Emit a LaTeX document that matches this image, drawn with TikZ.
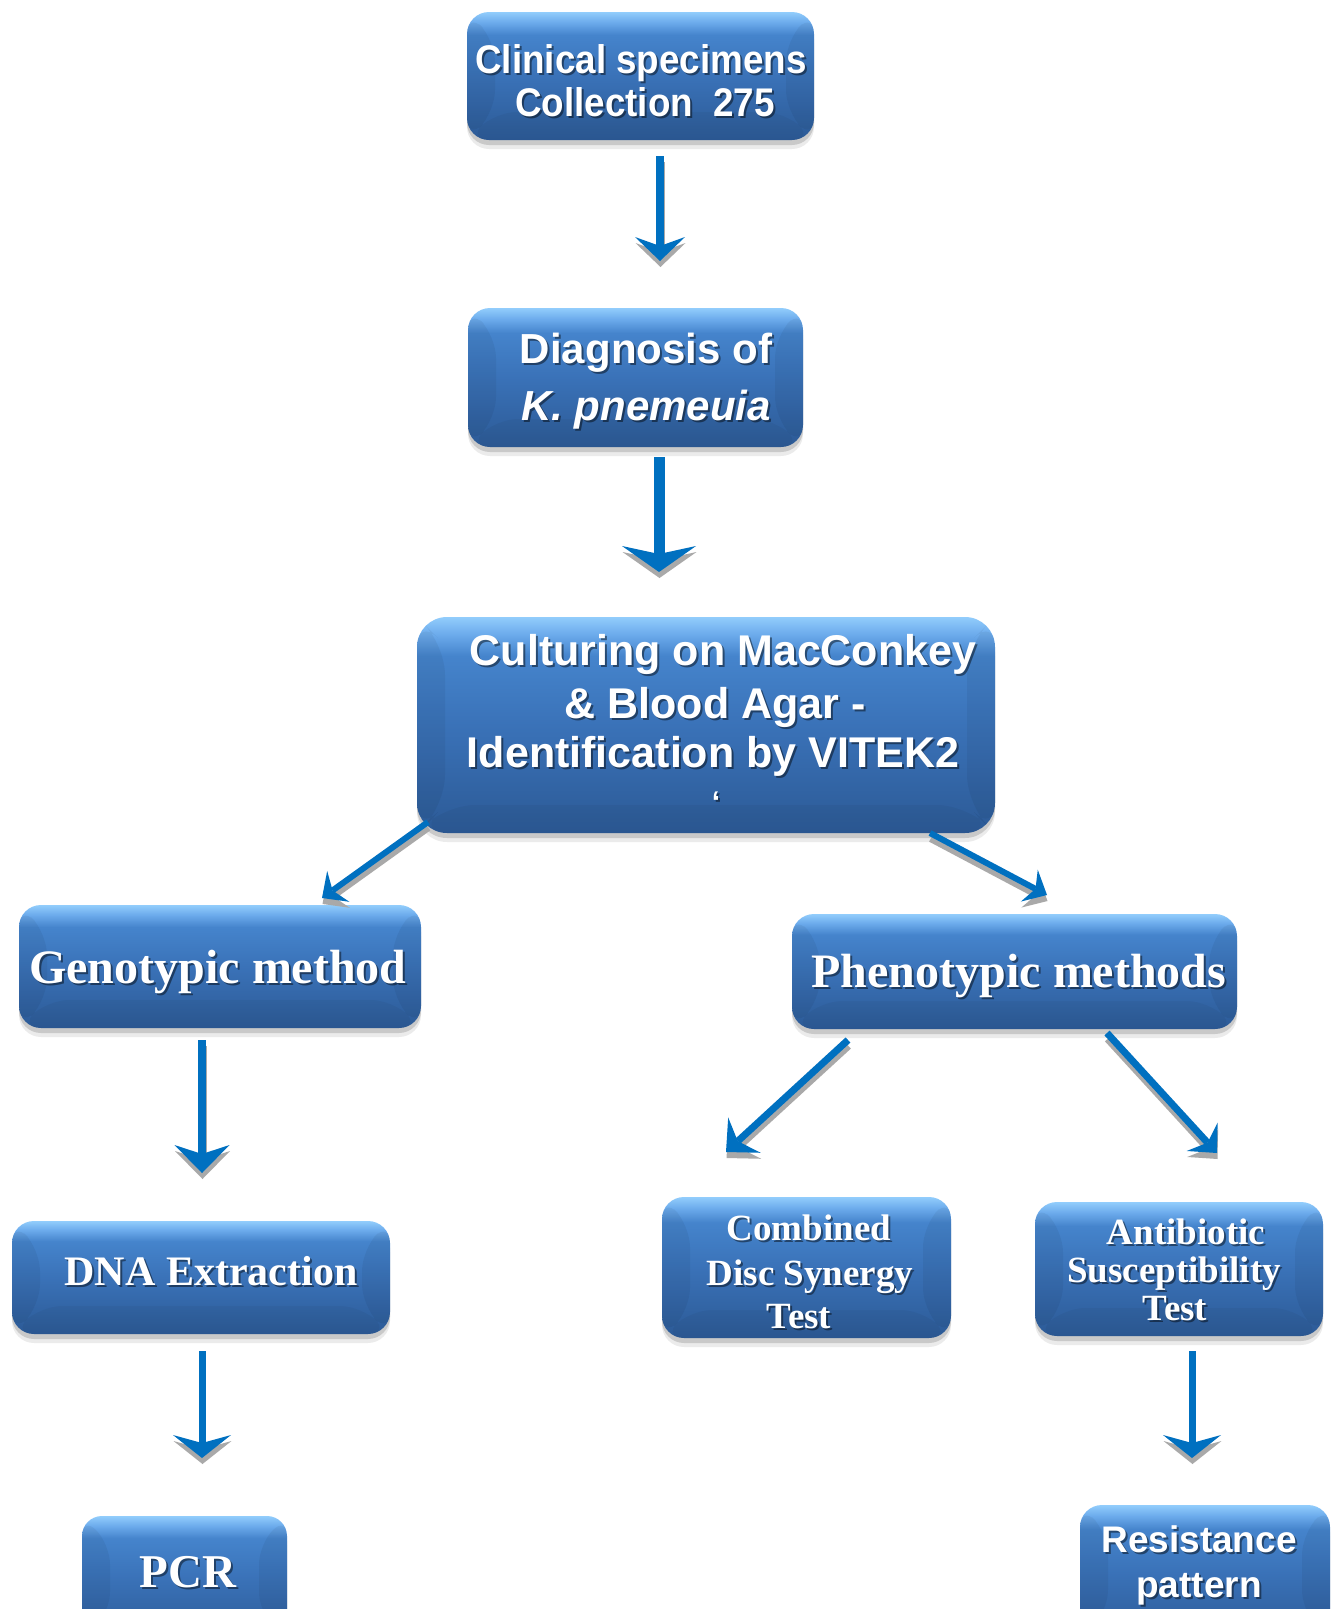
\documentclass[tikz,border=0pt]{standalone}
\usepackage{fontspec}
\usepackage{graphicx}
\usetikzlibrary{arrows.meta}
\newfontfamily\ars{Liberation Sans}
\newfontfamily\tms{Liberation Serif}
\definecolor{arrblue}{HTML}{0070C0}
\definecolor{shgray}{HTML}{A9A9A9}
\definecolor{bbot}{HTML}{2C5A96}
\definecolor{bmid}{HTML}{3A72B8}
\definecolor{bmidb}{HTML}{4584CC}
\definecolor{bhi}{HTML}{6CABEC}
\definecolor{btop}{HTML}{92CDFC}
\pgfdeclareverticalshading{boxgrad}{100bp}{color(0bp)=(bbot); color(25bp)=(bbot); color(50bp)=(bmid); color(66bp)=(bmidb); color(71bp)=(bhi); color(75bp)=(btop); color(100bp)=(btop)}
\tikzset{
  bx/.style={rectangle, inner sep=0pt, outer sep=0pt, shading=boxgrad,
    preaction={fill=black, fill opacity=0.08, transform canvas={yshift=-9pt}},
    preaction={fill=black, fill opacity=0.14, transform canvas={yshift=-5pt}},
    path picture={
      \fill[black, fill opacity=0.05] (path picture bounding box.north west) -- ++(28,28)
        -- ([shift={(28,-28)}]path picture bounding box.south west) -- (path picture bounding box.south west) -- cycle;
      \fill[black, fill opacity=0.05] (path picture bounding box.north east) -- ++(-28,28)
        -- ([shift={(-28,-28)}]path picture bounding box.south east) -- (path picture bounding box.south east) -- cycle;
      \fill[black, fill opacity=0.04] (path picture bounding box.south west) -- ++(28,-28)
        -- ([shift={(-28,-28)}]path picture bounding box.south east) -- (path picture bounding box.south east) -- cycle;
    }},
  tsh/.style={text=black, text opacity=0.45, inner sep=0pt, outer sep=0pt},
  tmain/.style={text=white, inner sep=0pt, outer sep=0pt}
}
\newcommand\bxx[6]{\node[bx, rounded corners=#6pt, minimum width={#4-#2}, minimum height={#5-#3}] (#1) at ({(#2+#4)/2},{(#3+#5)/2}) {};}
\newcommand\tl[5]{%
  \node[tsh, anchor=base] (#1-sh) at (#2+2,#3+2.5) {#4#5};
  \node[tmain, anchor=base] (#1) at (#2,#3) {#4#5};}
\newcommand\arw[6]{%
  \draw[line width=#3pt, shgray, -{Stealth[length=#4pt,width=#5pt,inset=#6pt,line width=0pt]}, transform canvas={xshift=0.5pt,yshift=-6pt}] (#1) -- (#2);
  \draw[line width=#3pt, arrblue, -{Stealth[length=#4pt,width=#5pt,inset=#6pt,line width=0pt]}] (#1) -- (#2);}
\newcommand\fsans[1]{\ars\bfseries\fontsize{#1}{#1}\selectfont}
\newcommand\fserif[1]{\tms\bfseries\fontsize{#1}{#1}\selectfont}
\begin{document}
\begin{tikzpicture}[x=1pt,y=-1pt]
\useasboundingbox (0,0) rectangle (1339,1609);
\fill[white] (0,0) rectangle (1339,1609);
% boxes
\bxx{b1}{467}{12}{814}{140}{22}
\bxx{b2}{468}{308}{803}{447}{22}
\bxx{b3}{417}{617}{995}{833}{30}
\bxx{b4}{19}{905}{421}{1028}{22}
\bxx{b5}{792}{914}{1237}{1029}{22}
\bxx{b6}{12}{1221}{390}{1334}{22}
\bxx{b7}{662}{1197}{951}{1338}{22}
\bxx{b8}{1035}{1202}{1323}{1336}{22}
\bxx{b9}{82}{1516}{287}{1640}{20}
\bxx{b10}{1080}{1505}{1330}{1640}{22}
% texts
\tl{t1a}{641}{73}{\fsans{40}}{\scalebox{0.92}[1]{Clinical specimens}}
\tl{t1b}{645}{116}{\fsans{40}}{\scalebox{0.92}[1]{Collection~~275}}
\tl{t2a}{646}{363}{\fsans{42}}{Diagnosis of}
\tl{t2b}{646}{420}{\fsans{42}\itshape}{K. pnemeuia}
\tl{t3a}{723}{665}{\fsans{43}}{Culturing on MacConkey}
\tl{t3b}{715}{718}{\fsans{43}}{\& Blood Agar -}
\tl{t3c}{713}{767}{\fsans{43}}{Identification by VITEK2}
\tl{t3d}{716}{812}{\fsans{30}}{‘}
\tl{t4}{218}{983}{\fserif{48}}{Genotypic method}
\tl{t5}{1019}{987}{\fserif{48}}{Phenotypic methods}
\tl{t6}{211}{1285}{\fserif{42}}{DNA Extraction}
\tl{t7a}{809}{1240}{\fserif{37}}{Combined}
\tl{t7b}{810}{1285}{\fserif{37}}{Disc Synergy}
\tl{t7c}{799}{1328}{\fserif{37}}{Test}
\tl{t8a}{1186}{1244}{\fserif{37}}{Antibiotic}
\tl{t8b}{1174}{1282}{\fserif{37}}{Susceptibility}
\tl{t8c}{1175}{1320}{\fserif{37}}{Test}
\tl{t9}{188}{1587}{\fserif{47}}{PCR}
\tl{t10a}{1199}{1552}{\fsans{37}}{Resistance}
\tl{t10b}{1199}{1597}{\fsans{37}}{pattern}
% arrow end points
\coordinate (a1s) at (660,156);  \coordinate (a1e) at (660,261);
\coordinate (a2s) at (659,457);  \coordinate (a2e) at (659,572);
\coordinate (a3s) at (428,822);  \coordinate (a3e) at (322,898);
\coordinate (a4s) at (930,833);  \coordinate (a4e) at (1047,895);
\coordinate (a5s) at (202,1040); \coordinate (a5e) at (202,1173);
\coordinate (a6s) at (848,1040); \coordinate (a6e) at (726,1152);
\coordinate (a7s) at (1107,1033);\coordinate (a7e) at (1217,1153);
\coordinate (a8s) at (202,1351); \coordinate (a8e) at (202,1458);
\coordinate (a9s) at (1192,1351);\coordinate (a9e) at (1192,1458);
% arrows
\arw{a1s}{a1e}{8}{24}{50}{9}
\arw{a2s}{a2e}{11}{26}{74}{8}
\arw{a3s}{a3e}{6}{20}{38}{7}
\arw{a4s}{a4e}{6}{20}{36}{7}
\arw{a5s}{a5e}{8}{28}{55}{9}
\arw{a6s}{a6e}{7}{25}{48}{9}
\arw{a7s}{a7e}{7}{22}{42}{8}
\arw{a8s}{a8e}{7}{23}{58}{8}
\arw{a9s}{a9e}{7}{23}{58}{8}
\end{tikzpicture}
\end{document}
